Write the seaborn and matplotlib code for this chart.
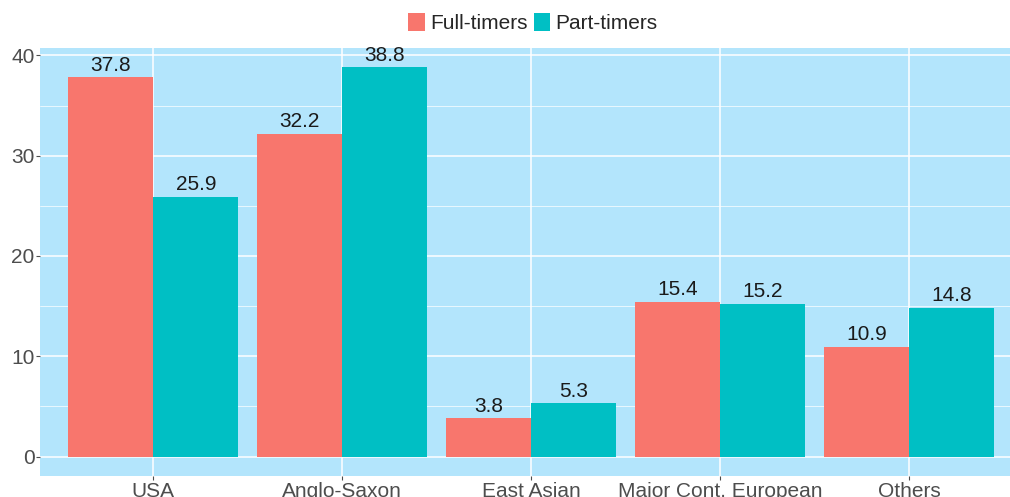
import matplotlib
matplotlib.use("Agg")
import matplotlib.pyplot as plt
import seaborn as sns
import pandas as pd
from matplotlib.ticker import MultipleLocator
from matplotlib.patches import Patch

categories = ["USA", "Anglo-Saxon", "East Asian", "Major Cont. European", "Others"]
full_timers = [37.8, 32.2, 3.8, 15.4, 10.9]
part_timers = [25.9, 38.8, 5.3, 15.2, 14.8]
series_names = ["Full-timers", "Part-timers"]
colors = ["#F8766D", "#00BFC4"]

df = pd.DataFrame({
    "group": categories * 2,
    "share": full_timers + part_timers,
    "type": [series_names[0]] * len(categories) + [series_names[1]] * len(categories),
})

sns.set_theme(style="white")
plt.rcParams["font.family"] = ["Liberation Sans", "DejaVu Sans"]

fig = plt.figure(figsize=(10.10, 4.97), dpi=100)
ax = fig.add_axes([40 / 1010, 1 - 476 / 497, 1 - 40 / 1010, (476 - 48) / 497])

panel = "#B3E5FC"
ax.set_facecolor(panel)

sns.barplot(data=df, x="group", y="share", hue="type", order=categories,
            hue_order=series_names, palette=colors, width=0.9, gap=0,
            saturation=1, ax=ax, legend=False, zorder=3, linewidth=0)

for cont in ax.containers:
    for bar in cont:
        h = bar.get_height()
        ax.annotate(f"{h:.1f}", (bar.get_x() + bar.get_width() / 2, h),
                    xytext=(0, 2), textcoords="offset points",
                    ha="center", va="bottom", fontsize=15, color="#1a1a1a", zorder=4)

ax.set_xlim(-0.6, 4.534)
ax.set_ylim(-1.94, 40.74)
ax.yaxis.set_major_locator(MultipleLocator(10))
ax.yaxis.set_minor_locator(MultipleLocator(5))
ax.grid(which="major", axis="both", color="white", linewidth=1.1, zorder=1)
ax.grid(which="minor", axis="y", color="white", linewidth=0.5, zorder=1)
ax.set_axisbelow(True)

for s in ax.spines.values():
    s.set_visible(False)

ax.tick_params(axis="both", which="major", length=3, width=0.8, color="#4D4D4D",
               labelsize=15, labelcolor="#4D4D4D", pad=1, bottom=True, left=True)
ax.tick_params(axis="y", which="minor", length=0)
ax.set_xlabel("")
ax.set_ylabel("")

handles = [Patch(facecolor=c, edgecolor="none") for c in colors]
fig.legend(handles, series_names, loc="center", bbox_to_anchor=(533 / 1010, 1 - 23 / 497),
           ncol=2, frameon=False, fontsize=15, handlelength=0.8, handleheight=1.0,
           handletextpad=0.25, columnspacing=0.3, borderaxespad=0)

fig.savefig("out.png", dpi=100)
